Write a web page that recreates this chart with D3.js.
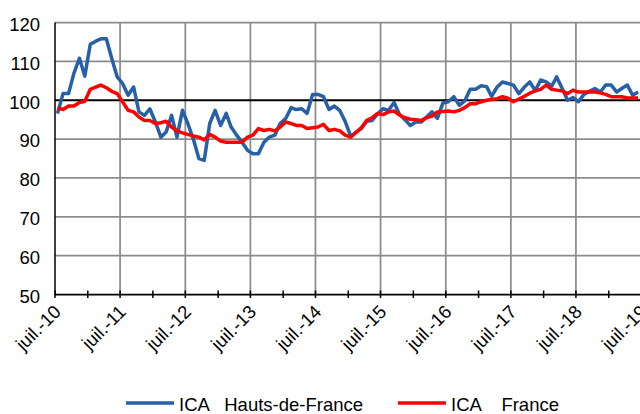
<!DOCTYPE html>
<html>
<head>
<meta charset="utf-8">
<script src="https://cdn.jsdelivr.net/npm/d3@7"></script>
<style>
  body { margin: 0; background: #fff; }
  text { font-family: "Liberation Sans", Arial, sans-serif; fill: #000; }
</style>
</head>
<body>
<script>
// monthly index values, juil. 2010 -> juin 2019
var hautsDeFrance = [
  96.6, 101.7, 101.7, 106.9, 110.8, 106.2, 114.4, 115.2, 115.8, 115.8, 110.8, 106.0,
  104.3, 101.3, 103.4, 97.0, 96.1, 97.8, 94.4, 90.5, 91.8, 96.1, 90.5, 97.4,
  94.0, 90.0, 85.0, 84.5, 94.0, 97.4, 93.5, 96.6, 93.1, 91.0, 89.2, 87.1,
  86.2, 86.2, 89.2, 90.5, 91.0, 94.0, 95.3, 98.1, 97.6, 97.8, 96.6, 101.5,
  101.5, 100.9, 97.6, 98.5, 97.3, 94.5, 90.7, 91.8, 92.7, 94.6, 94.8, 96.5,
  97.8, 97.4, 99.4, 96.4, 95.0, 93.5, 94.4, 94.4, 95.7, 97.0, 95.3, 99.3,
  99.6, 100.9, 98.7, 99.8, 102.8, 102.8, 103.7, 103.5, 101.0, 103.4, 104.7, 104.3,
  103.9, 101.7, 103.4, 104.7, 102.5, 105.2, 104.7, 103.6, 106.0, 103.0, 100.0, 100.7,
  99.6, 101.5, 102.3, 103.0, 102.1, 103.9, 103.9, 102.1, 103.0, 103.9, 101.3, 102.1
];
var france = [
  98.0, 97.6, 98.5, 98.5, 99.4, 99.7, 102.8, 103.4, 103.9, 103.2, 102.3, 101.7,
  99.6, 97.4, 97.0, 95.7, 94.8, 94.8, 94.0, 94.2, 94.6, 93.1, 92.1, 91.6,
  91.2, 90.8, 90.5, 89.8, 91.2, 90.5, 89.5, 89.2, 89.2, 89.2, 89.2, 90.5,
  91.0, 92.7, 92.2, 92.5, 92.1, 93.1, 94.4, 94.0, 93.5, 93.5, 92.7, 92.9,
  93.1, 93.8, 92.2, 92.5, 92.1, 91.0, 90.5, 91.8, 92.9, 94.8, 95.5, 96.6,
  96.3, 97.0, 97.2, 96.2, 95.5, 95.1, 95.0, 94.8, 95.5, 95.9, 97.0, 97.1,
  97.2, 97.0, 97.4, 98.1, 99.1, 99.1, 99.6, 100.0, 100.2, 100.4, 100.9, 100.5,
  99.6, 100.3, 101.0, 101.8, 102.4, 102.8, 103.9, 102.8, 102.6, 102.4, 101.7, 102.6,
  102.1, 102.1, 102.1, 102.1, 101.9, 101.5, 100.9, 100.9, 100.9, 100.6, 100.6, 100.6
];
var tickLabels = ["juil.-10", "juil.-11", "juil.-12", "juil.-13", "juil.-14",
                  "juil.-15", "juil.-16", "juil.-17", "juil.-18", "juil.-19"];
var yTicks = [50, 60, 70, 80, 90, 100, 110, 120];
var seriesNames = ["ICA   Hauts-de-France", "ICA    France"];
var seriesColors = ["#2660a8", "#ff0000"];

var w = 640, h = 414;

var start = new Date(2010, 6, 1), end = new Date(2019, 6, 1);
var months = d3.timeMonth.range(start, end).map(function (d) {
    return new Date(d.getFullYear(), d.getMonth(), 15);
});
var stop = d3.timeMonth.offset(end, 1);
var julys = d3.timeMonth.range(start, stop, 12);
var halfYears = d3.timeMonth.range(start, stop, 6);

var xScale = d3.scaleTime().domain([start, end]).range([55, 641]);
var yScale = d3.scaleLinear().domain([50, 120]).range([294.5, 22.5]);

var svg = d3.select("body").append("svg")
    .attr("width", w)
    .attr("height", h);

// horizontal grid
svg.append("g").selectAll("line")
    .data(yTicks.filter(function (v) { return v !== 50 && v !== 100; }))
    .enter().append("line")
    .attr("x1", 55).attr("x2", w)
    .attr("y1", function (d) { return yScale(d); })
    .attr("y2", function (d) { return yScale(d); })
    .attr("stroke", "#8c8c8c").attr("stroke-width", 1.75);

// vertical grid at july
svg.append("g").selectAll("line")
    .data(julys.slice(1))
    .enter().append("line")
    .attr("x1", function (d) { return xScale(d); })
    .attr("x2", function (d) { return xScale(d); })
    .attr("y1", yScale(120)).attr("y2", yScale(50))
    .attr("stroke", "#8c8c8c").attr("stroke-width", 1.75);

// reference line at 100
svg.append("line")
    .attr("x1", 55).attr("x2", w)
    .attr("y1", yScale(100)).attr("y2", yScale(100))
    .attr("stroke", "#000").attr("stroke-width", 2);

// axes
svg.append("line")
    .attr("x1", 55).attr("x2", 55)
    .attr("y1", yScale(120)).attr("y2", yScale(50))
    .attr("stroke", "#000").attr("stroke-width", 1.5);
svg.append("line")
    .attr("x1", 55).attr("x2", w)
    .attr("y1", yScale(50)).attr("y2", yScale(50))
    .attr("stroke", "#000").attr("stroke-width", 1.75);

svg.append("g").selectAll("line")
    .data(halfYears)
    .enter().append("line")
    .attr("x1", function (d) { return xScale(d); })
    .attr("x2", function (d) { return xScale(d); })
    .attr("y1", yScale(50) - 4).attr("y2", yScale(50) + 3.5)
    .attr("stroke", "#000").attr("stroke-width", 1.5);

// y labels
svg.append("g").selectAll("text")
    .data(yTicks)
    .enter().append("text")
    .attr("x", 40)
    .attr("y", function (d) { return yScale(d) + 8.3; })
    .attr("text-anchor", "end")
    .style("font-size", "18.5px")
    .text(function (d) { return d; });

// x labels
svg.append("g").selectAll("text")
    .data(julys)
    .enter().append("text")
    .attr("transform", function (d) {
        return "translate(" + (xScale(d) + 7) + "," + 313 + ") rotate(-45)";
    })
    .attr("text-anchor", "end")
    .style("font-size", "18.5px")
    .text(function (d, i) { return tickLabels[i]; });

// series
var line = d3.line()
    .x(function (d, i) { return xScale(months[i]); })
    .y(function (d) { return yScale(d); });

[hautsDeFrance, france].forEach(function (s, k) {
    svg.append("path")
        .datum(s)
        .attr("d", line)
        .attr("fill", "none")
        .attr("stroke", seriesColors[k])
        .attr("stroke-width", 3.5)
        .attr("stroke-linejoin", "round");
});

// legend
var legendX = [126, 398];
seriesNames.forEach(function (name, k) {
    svg.append("line")
        .attr("x1", legendX[k]).attr("x2", legendX[k] + 48)
        .attr("y1", 403).attr("y2", 403)
        .attr("stroke", seriesColors[k]).attr("stroke-width", 3.5);
    svg.append("text")
        .attr("x", legendX[k] + 53)
        .attr("y", 410.5)
        .attr("xml:space", "preserve")
        .style("white-space", "pre")
        .style("font-size", "18.5px")
        .text(name);
});
</script>
</body>
</html>
